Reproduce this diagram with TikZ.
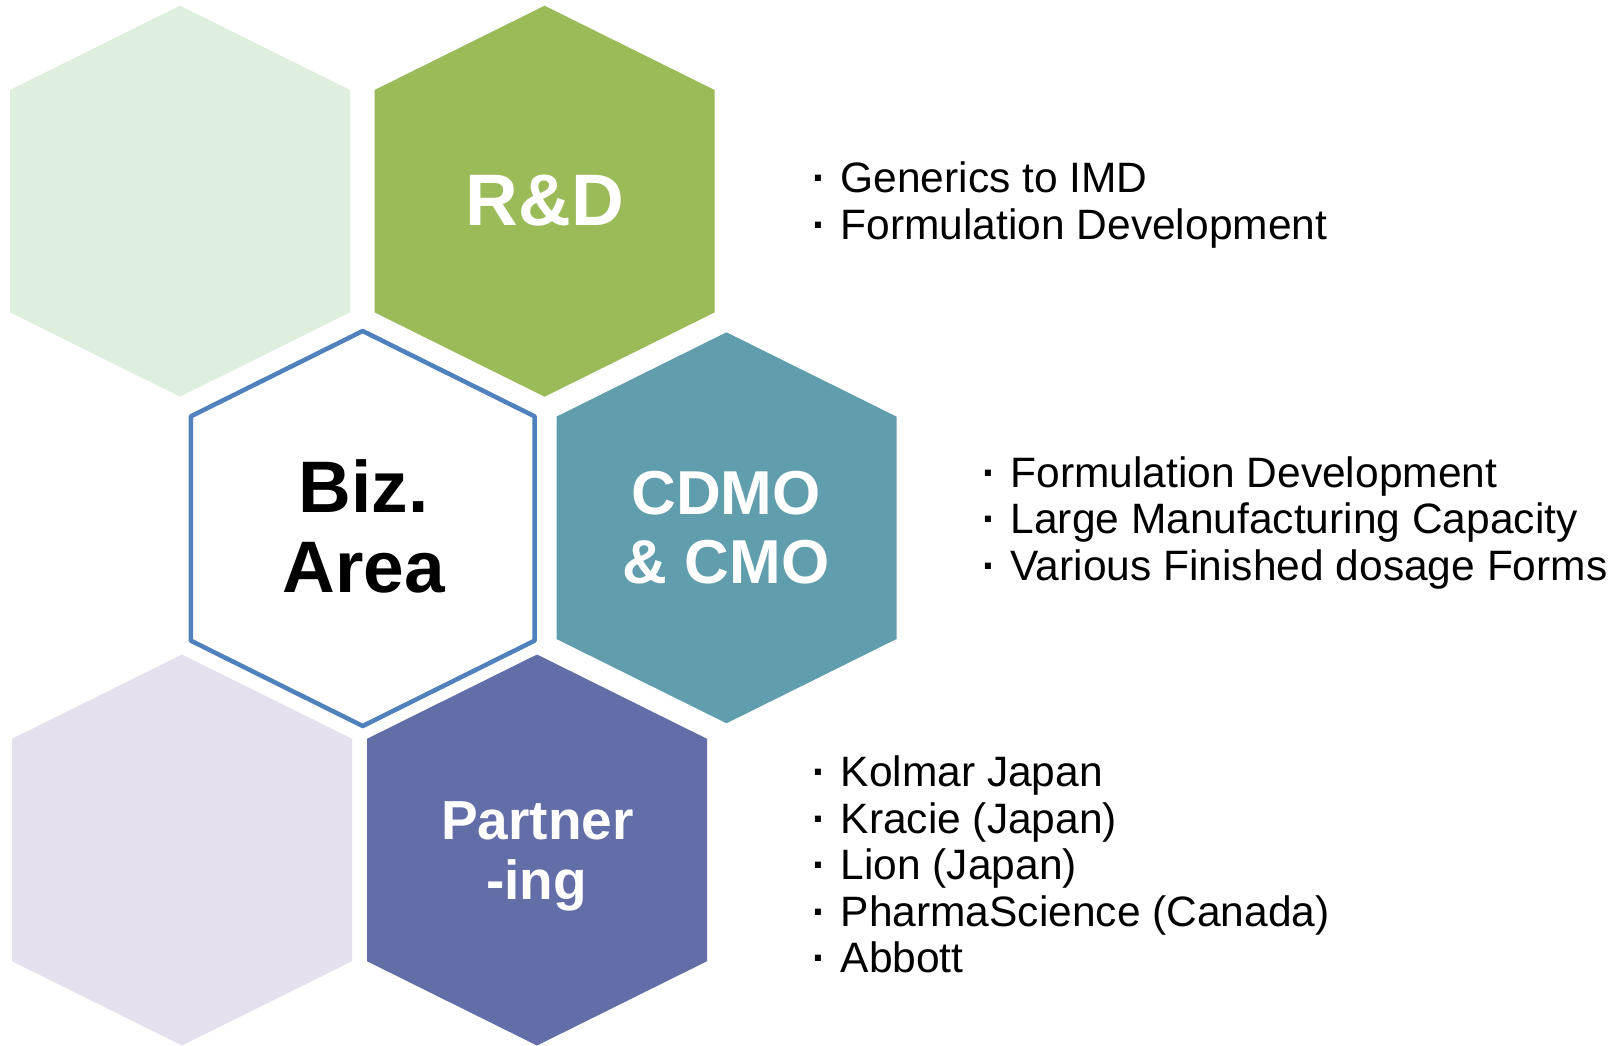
\documentclass[tikz,border=0pt]{standalone}
\usepackage{fontspec}
\setmainfont{Liberation Sans}
\definecolor{hexpalegreen}{HTML}{DFEFDD}
\definecolor{hexgreen}{HTML}{9BBB59}
\definecolor{hexteal}{HTML}{619EAD}
\definecolor{hexpurple}{HTML}{636EA8}
\definecolor{hexlavender}{HTML}{E5E0EE}
\definecolor{hexblue}{HTML}{4F81BD}
% #1 style, #2 cx, #3 cy, #4 half width, #5 half height, #6 shoulder offset
\newcommand{\hexpath}[6]{%
  \path[#1] ({#2},{#3-#5}) -- ({#2+#4},{#3-#6}) -- ({#2+#4},{#3+#6})
    -- ({#2},{#3+#5}) -- ({#2-#4},{#3+#6}) -- ({#2-#4},{#3-#6}) -- cycle;}
\newcommand{\itemdot}{\textbf{·}\kern 2.5pt\ }
\begin{document}
\begin{tikzpicture}[x=1pt,y=-1pt,
  hexfill/.style={fill=#1},
  hexlabel/.style={anchor=base, inner sep=0pt, text=white},
  bizlabel/.style={anchor=base, inner sep=0pt, text=black},
  itemtext/.style={anchor=base west, inner sep=0pt, text=black,
    font=\fontsize{42.5}{46.5}\selectfont}]
\useasboundingbox (0,0) rectangle (1619,1045);
\fill[white] (0,0) rectangle (1619,1045);

% hexagons
\hexpath{hexfill=hexpalegreen}{180}{201.2}{170}{195.5}{111.2}
\hexpath{hexfill=hexgreen}{544.6}{201.2}{170}{195.5}{111.2}
\hexpath{hexfill=hexteal}{726.5}{527.8}{170}{195.5}{111.2}
\hexpath{hexfill=hexlavender}{182}{850}{170}{195.5}{111.2}
\hexpath{hexfill=hexpurple}{537}{850}{170}{195.5}{111.2}
\hexpath{draw=hexblue, line width=4.5pt, line join=round, fill=white}{362.7}{528.5}{171.8}{197.5}{112.2}

% hexagon labels
\node[hexlabel, font=\bfseries\fontsize{73}{80}\selectfont] (rd) at (545,225.7) {R\&D};
\node[bizlabel, font=\bfseries\fontsize{73}{80}\selectfont] (biz1) at (363.5,512.5) {Biz.};
\node[bizlabel, font=\bfseries\fontsize{73}{80}\selectfont] (biz2) at (363.5,592) {Area};
\node[hexlabel, font=\bfseries\fontsize{62}{69}\selectfont] (cdmo1) at (726,514.3) {CDMO};
\node[hexlabel, font=\bfseries\fontsize{62}{69}\selectfont] (cdmo2) at (726,583.3) {\& CMO};
\node[hexlabel, font=\bfseries\fontsize{55}{60}\selectfont] (part1) at (537.5,839.2) {Partner};
\node[hexlabel, font=\bfseries\fontsize{55}{60}\selectfont] (part2) at (536.5,899.5) {-ing};

% R&D items
\node[itemtext] (rdA) at (812,192.5) {\itemdot Generics to IMD};
\node[itemtext] (rdB) at (812,239) {\itemdot Formulation Development};

% CDMO items
\node[itemtext] (cdA) at (982,487.3) {\itemdot Formulation Development};
\node[itemtext] (cdB) at (982,533.8) {\itemdot Large Manufacturing Capacity};
\node[itemtext] (cdC) at (982,580.3) {\itemdot Various Finished dosage Forms};

% Partnering items
\node[itemtext] (ptA) at (812,786.8) {\itemdot Kolmar Japan};
\node[itemtext] (ptB) at (812,833.2) {\itemdot Kracie (Japan)};
\node[itemtext] (ptC) at (812,879.7) {\itemdot Lion (Japan)};
\node[itemtext] (ptD) at (812,926.1) {\itemdot PharmaScience (Canada)};
\node[itemtext] (ptE) at (812,972.6) {\itemdot Abbott};
\end{tikzpicture}
\end{document}
